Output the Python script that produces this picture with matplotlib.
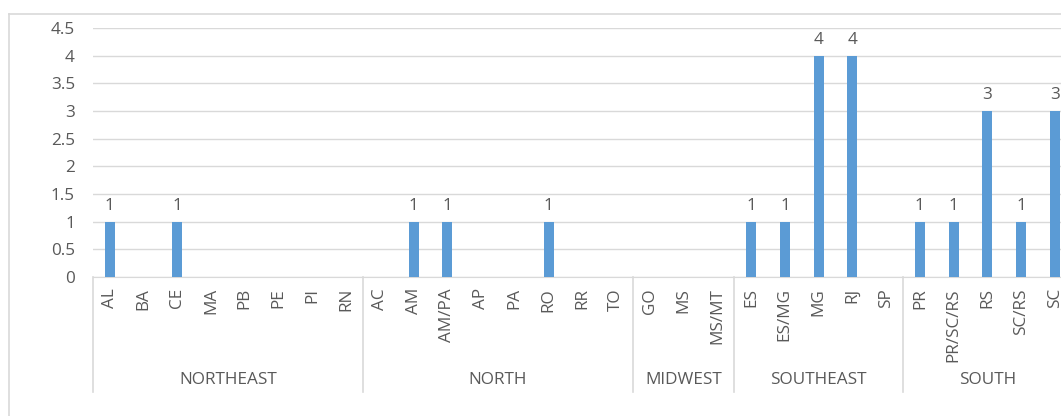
import matplotlib.pyplot as plt
from matplotlib.lines import Line2D
import matplotlib.transforms as mtransforms

plt.rcParams['font.family'] = ['Open Sans', 'DejaVu Sans']

regions = ["NORTHEAST", "NORTH", "MIDWEST", "SOUTHEAST", "SOUTH"]
northeast = ["AL", "BA", "CE", "MA", "PB", "PE", "PI", "RN"]
northeast_vals = [1, 0, 1, 0, 0, 0, 0, 0]
north = ["AC", "AM", "AM/PA", "AP", "PA", "RO", "RR", "TO"]
north_vals = [0, 1, 1, 0, 0, 1, 0, 0]
midwest = ["GO", "MS", "MS/MT"]
midwest_vals = [0, 0, 0]
southeast = ["ES", "ES/MG", "MG", "RJ", "SP"]
southeast_vals = [1, 1, 4, 4, 0]
south = ["PR", "PR/SC/RS", "RS", "SC/RS", "SC"]
south_vals = [1, 1, 3, 1, 3]

groups = [northeast, north, midwest, southeast, south]
group_vals = [northeast_vals, north_vals, midwest_vals, southeast_vals, south_vals]

states = [s for g in groups for s in g]
values = [v for g in group_vals for v in g]
x = list(range(len(states)))

W, H = 1061, 416
fig = plt.figure(figsize=(W / 100, H / 100), dpi=100)
# plot area runs past the right edge of the image
left, right = 93 / W, (93 + 33.75 * len(states)) / W
bottom, top = (H - 277) / H, (H - 28) / H
ax = fig.add_axes([left, bottom, right - left, top - bottom])

bar_color = "#5B9BD5"
grid_color = "#D9D9D9"
text_color = "#595959"
fs = 12.3

ax.bar(x, values, width=0.3, color=bar_color, zorder=3)
ax.set_xlim(-0.5, len(states) - 0.5)
ax.set_ylim(0, 4.5)
ax.set_yticks([0, 0.5, 1, 1.5, 2, 2.5, 3, 3.5, 4, 4.5])
ax.set_yticklabels(["0", "0.5", "1", "1.5", "2", "2.5", "3", "3.5", "4", "4.5"])
ax.yaxis.grid(True, color=grid_color, lw=1)
ax.set_axisbelow(True)
for side in ["top", "right", "left"]:
    ax.spines[side].set_visible(False)
ax.spines["bottom"].set_color(grid_color)
ax.tick_params(axis="y", length=0, pad=13, labelsize=fs, labelcolor=text_color)
ax.set_xticks(x)
ax.set_xticklabels(states, rotation=90, va="top")
ax.tick_params(axis="x", length=0, pad=8, labelsize=fs, labelcolor=text_color)

for xi, v in zip(x, values):
    if v:
        ax.annotate(str(v), (xi, v), xytext=(0, 8.6), textcoords="offset points",
                    ha="center", va="baseline", fontsize=fs, color=text_color)

# region separators and names below the state labels
trans = mtransforms.blended_transform_factory(ax.transData, ax.transAxes)
sep_bottom = (277 - 392) / 249
label_y = (277 - 380) / 249
start = 0
bounds = [-0.5]
for g in groups:
    start += len(g)
    bounds.append(start - 0.5)
for b in bounds:
    ax.plot([b, b], [0, sep_bottom], transform=trans, color=grid_color, lw=1.2, clip_on=False)
for name, a, b in zip(regions, bounds[:-1], bounds[1:]):
    ax.text((a + b) / 2, label_y, name, transform=trans, ha="center", va="center",
            fontsize=fs, color=text_color)

# chart frame
fig.add_artist(Line2D([8.5 / W, 8.5 / W], [0, 1 - 13.5 / H], color=grid_color, lw=1.2))
fig.add_artist(Line2D([8.5 / W, 1], [1 - 13.5 / H, 1 - 13.5 / H], color=grid_color, lw=1.2))

fig.savefig("out.png", dpi=100)
